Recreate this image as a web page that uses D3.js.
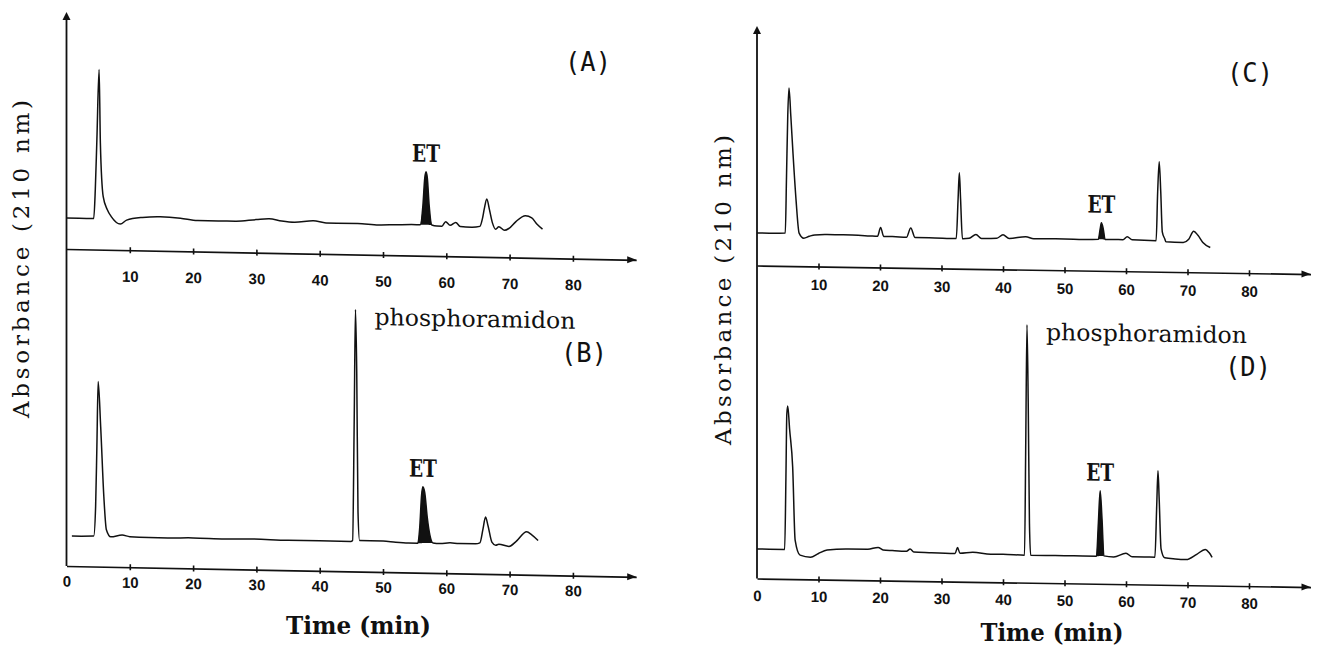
<!DOCTYPE html>
<html>
<head>
<meta charset="utf-8">
<script src="https://cdn.jsdelivr.net/npm/d3@7"></script>
<style>
  html, body { margin: 0; padding: 0; background: #fff; }
  svg { display: block; }
</style>
</head>
<body>
<svg id="chart" width="1326" height="652"></svg>
<script>
// ---------------- DATA (time in min, relative absorbance in arbitrary units) ----------------
const tickValuesUpper = [10, 20, 30, 40, 50, 60, 70, 80];
const tickValuesLower = [0, 10, 20, 30, 40, 50, 60, 70, 80];
const panelLetters = ["(A)", "(B)", "(C)", "(D)"];
const yAxisTitle = "Absorbance (210 nm)";
const xAxisTitle = "Time (min)";
const etName = "ET";
const phosphoName = "phosphoramidon";

const traceA = [[0,31],[2,31],[4.3,31],[4.55,60],[4.8,110],[5.15,180],[5.35,107],[5.8,53],[6.45,40],[7.1,33],[8.5,26],[9.5,30],[12,33],[14.8,34],[18,33],[20.7,31],[24,31],[26.7,31],[30,33],[32,34],[34,32],[36,31],[39,33],[41,31],[42.7,31],[46,31],[49.3,30],[52,30.5],[55.3,31],[55.9,31],[56.3,50],[56.6,78],[56.8,84],[57.0,78],[57.3,50],[57.7,31],[58.5,30],[59.3,30],[59.9,34.5],[60.6,31],[61.5,34],[62.2,30],[64,29.5],[65.3,30.5],[65.7,38],[66.0,48],[66.4,58],[66.8,48],[67.3,34],[67.8,28],[68.3,30.5],[69.2,27],[69.9,29],[71,36],[72.5,42],[73.5,40],[74.3,34],[75.2,29]];

const traceB = [[0.85,30],[4.3,30.5],[4.6,60],[4.8,120],[5.0,185],[5.4,140],[5.9,70],[6.3,37],[7,30],[8.8,32],[10,30.5],[13,30],[16,30],[20,30.5],[25,30],[29.4,30.5],[35,30],[40,30],[44.9,30],[45.2,31],[45.45,150],[45.65,262],[45.85,200],[46.05,60],[46.3,31],[48,31],[50,31],[52,30],[54,29.5],[55.5,29.5],[55.8,45],[56.1,78],[56.3,86],[56.6,80],[57.0,55],[57.4,38],[57.9,30],[59,29.5],[60.6,30.5],[62,30],[64.6,30],[65.3,31],[65.8,45],[66.2,57],[66.6,48],[67.2,32],[67.8,29],[68.3,30],[69.9,28],[71,33],[72.7,43],[73.5,40],[74.5,34.5]];

const traceC = [[0,32.5],[2,32.5],[4.6,33],[4.8,90],[5.0,150],[5.2,178],[5.5,150],[5.85,113],[6.35,66],[6.85,33],[7.6,28],[8.5,30],[9.4,31.5],[11.4,32],[14,32],[18.3,31.3],[19.6,31],[20.1,40],[20.6,31],[22,31],[24.3,30.5],[25,40],[25.7,30.5],[28,30.5],[32.4,30],[32.7,70],[32.9,96],[33.1,70],[33.4,30],[34.5,30.5],[35.6,34.5],[36.5,30.5],[39,31],[40,34.5],[41,31],[43.7,33],[45,31],[50,31.4],[53,31],[55.5,31.5],[55.8,42],[56,48],[56.3,42],[56.6,31.5],[58,31.5],[59.5,31.5],[60.2,34.5],[61,31.5],[64.9,31],[65.15,80],[65.4,110],[65.65,80],[65.9,40],[66.3,33],[66.5,30],[69.3,29.6],[70.2,33],[71,41],[71.7,37],[72.5,30],[73.7,25]];

const traceD = [[0,29.5],[2,29.5],[4.5,29.5],[4.7,100],[4.85,165],[5.0,173],[5.3,150],[5.8,112],[6.2,39],[7,24],[8.7,22],[10,26],[11.4,29.5],[14.8,31],[18,31],[19.7,33],[20.5,30.5],[22,30],[24.3,29.5],[24.9,32],[25.5,29],[28,28.5],[32.2,28],[32.6,34],[33,28.5],[35.1,29.7],[38,28],[40,28],[43.5,27.5],[43.7,140],[43.9,258],[44.1,180],[44.3,60],[44.5,27.5],[47,27.5],[50,27.6],[53,27.5],[55.2,27.5],[55.5,60],[55.8,93],[56.1,65],[56.4,28],[58,27],[60,31],[61,27.5],[63,27.5],[64.7,27.5],[65.0,80],[65.2,114],[65.4,85],[65.7,36],[66.3,27],[68,26],[69.8,25.6],[71.5,31],[72.9,36],[73.5,33],[74,28.3]];

const etWindowA = [55.9, 57.7];
const etWindowB = [55.5, 57.9];
const etWindowC = [55.5, 56.6];
const etWindowD = [55.2, 56.4];
const phosphoWindowB = [45.0, 46.5];
const phosphoWindowD = [43.4, 44.6];

// ---------------- LAYOUT ----------------
const INK = "#111";
const SERIF = "'DejaVu Serif', 'Liberation Serif', serif";
const panels = [
  { x0: 66.5, pxPerMin: 6.33, skew: 1.09, yTop: 12,
    yLabel: { x: 29, y: 259, len: 318 },
    xLabel: { x: 358.5, y: 634, len: 145 },
    subs: [
      { trace: traceA, et: etWindowA, phospho: null, axisY: 249, ticks: tickValuesUpper, pad: 21, letter: panelLetters[0], lx: 588, ly: 71 },
      { trace: traceB, et: etWindowB, phospho: phosphoWindowB, axisY: 566, ticks: tickValuesLower, pad: 10, letter: panelLetters[1], lx: 584, ly: 362 }
    ] },
  { x0: 757, pxPerMin: 6.15, skew: 0.89, yTop: 26,
    yLabel: { x: 731, y: 290, len: 310 },
    xLabel: { x: 1052, y: 641, len: 143 },
    subs: [
      { trace: traceC, et: etWindowC, phospho: null, axisY: 265.5, ticks: tickValuesUpper, pad: 13, letter: panelLetters[2], lx: 1250, ly: 82 },
      { trace: traceD, et: etWindowD, phospho: phosphoWindowD, axisY: 578.5, ticks: tickValuesLower, pad: 12, letter: panelLetters[3], lx: 1248, ly: 376 }
    ] }
];

const svg = d3.select("#chart");

function peakIn(trace, win) {
  const pts = trace.filter(d => d[0] >= win[0] && d[0] <= win[1]);
  return pts.reduce((a, b) => (b[1] > a[1] ? b : a), pts[0]);
}

panels.forEach(p => {
  const g = svg.append("g").attr("transform", `translate(${p.x0},0) skewY(${p.skew})`);
  const x = d3.scaleLinear().domain([0, 90]).range([0, 90 * p.pxPerMin]);

  // vertical axis with arrow
  const yBottom = p.subs[1].axisY;
  g.append("line").attr("x1", 0).attr("x2", 0).attr("y1", p.yTop + 4).attr("y2", yBottom)
    .attr("stroke", INK).attr("stroke-width", 1.8);
  g.append("path").attr("d", `M0,${p.yTop} L-4,${p.yTop + 8} L4,${p.yTop + 8} Z`).attr("fill", INK);

  p.subs.forEach(s => {
    const y = d3.scaleLinear().domain([0, 300]).range([s.axisY, s.axisY - 300]);

    // horizontal axis
    const axis = d3.axisBottom(x).tickValues(s.ticks).tickSizeOuter(0).tickSizeInner(0)
      .tickPadding(s.pad).tickFormat(d3.format("d"));
    const ag = g.append("g").attr("transform", `translate(0,${s.axisY})`).call(axis);
    ag.select(".domain").attr("stroke", INK).attr("stroke-width", 1.7);
    ag.selectAll(".tick line").attr("y1", -3).attr("y2", 3).attr("stroke", INK)
      .attr("stroke-width", 1.6).attr("opacity", d => (d === 0 ? 0 : 1));
    ag.selectAll(".tick text").attr("fill", INK)
      .style("font-family", "'Liberation Sans', Arial, sans-serif")
      .style("font-weight", "bold").style("font-size", "15px");
    // arrow head
    g.append("path")
      .attr("d", `M${x(90)},${s.axisY} L${x(90) - 9},${s.axisY - 3.5} L${x(90) - 9},${s.axisY + 3.5} Z`)
      .attr("fill", INK);

    // ET filled peak
    const etPts = s.trace.filter(d => d[0] >= s.et[0] && d[0] <= s.et[1]);
    const b0 = etPts[0], b1 = etPts[etPts.length - 1];
    const baseAt = t => b0[1] + (b1[1] - b0[1]) * (t - b0[0]) / (b1[0] - b0[0]);
    g.append("path").datum(etPts)
      .attr("d", d3.area().x(d => x(d[0])).y0(d => y(baseAt(d[0]))).y1(d => y(d[1])).curve(d3.curveMonotoneX))
      .attr("fill", INK);

    // trace
    g.append("path").datum(s.trace)
      .attr("d", d3.line().x(d => x(d[0])).y(d => y(d[1])).curve(d3.curveMonotoneX))
      .attr("fill", "none").attr("stroke", INK).attr("stroke-width", 1.5).attr("stroke-linejoin", "round");

    // ET label
    const etPk = peakIn(s.trace, s.et);
    g.append("text").attr("x", x(etPk[0])).attr("y", y(etPk[1]) - 10)
      .attr("text-anchor", "middle").attr("textLength", 28).attr("lengthAdjust", "spacingAndGlyphs")
      .style("font-family", SERIF)
      .style("font-weight", "bold").style("font-size", "24px").attr("fill", INK).text(etName);

    // phosphoramidon label
    if (s.phospho) {
      const ph = peakIn(s.trace, s.phospho);
      g.append("text").attr("x", x(ph[0]) + 19).attr("y", y(ph[1]) + 15)
        .attr("textLength", 201).attr("lengthAdjust", "spacingAndGlyphs")
        .style("font-family", SERIF)
        .style("font-size", "23px").attr("fill", INK).text(phosphoName);
    }

    // panel letter
    svg.append("text").attr("x", s.lx).attr("y", s.ly).attr("text-anchor", "middle")
      .attr("textLength", 46).attr("lengthAdjust", "spacingAndGlyphs")
      .style("font-family", "'DejaVu Sans Mono', monospace")
      .style("font-size", "26px").attr("fill", INK).text(s.letter);
  });

  // axis titles
  svg.append("text").attr("transform", `translate(${p.yLabel.x},${p.yLabel.y}) rotate(-90)`)
    .attr("text-anchor", "middle").attr("textLength", p.yLabel.len).attr("lengthAdjust", "spacing")
    .style("font-family", SERIF)
    .style("font-size", "23px").attr("fill", INK).text(yAxisTitle);
  svg.append("text").attr("x", p.xLabel.x).attr("y", p.xLabel.y).attr("text-anchor", "middle")
    .attr("textLength", p.xLabel.len).attr("lengthAdjust", "spacingAndGlyphs")
    .style("font-family", SERIF)
    .style("font-weight", "bold").style("font-size", "25px").attr("fill", INK).text(xAxisTitle);
});
</script>
</body>
</html>
